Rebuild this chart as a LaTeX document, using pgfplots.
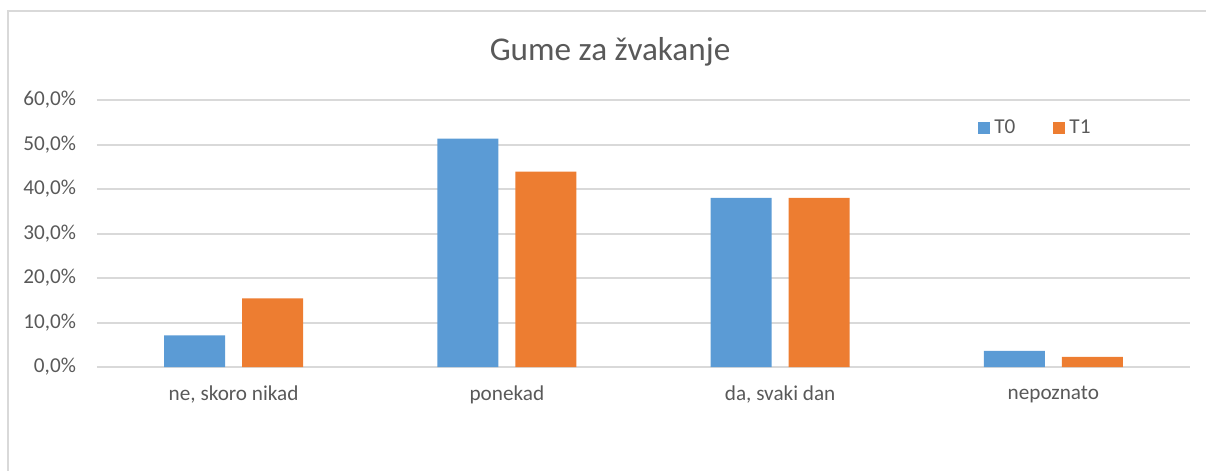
\documentclass[border=0pt]{standalone}
\usepackage{pgfplots}
\pgfplotsset{compat=1.18}
\usepackage{fontspec}
\setmainfont{Carlito}
\definecolor{txt}{HTML}{595959}
\definecolor{gridc}{HTML}{D9D9D9}
\definecolor{cT0}{HTML}{5B9BD5}
\definecolor{cT1}{HTML}{ED7D31}
\begin{document}
\begin{tikzpicture}
\path[use as bounding box] (0pt,0pt) rectangle (603pt,-235.5pt);
\draw[gridc, line width=1pt] (4pt,-240pt) -- (4pt,-5.5pt) -- (610pt,-5.5pt);
\node[text=txt, font=\fontsize{16.6}{20}\selectfont] at (305pt,-26pt) {Gume za žvakanje};
\begin{axis}[
  at={(48.5pt,-183.5pt)}, anchor=south west,
  scale only axis, width=546.5pt, height=133.5pt,
  ybar, bar width=30.5pt, ybar=8.5pt,
  xmin=-0.5, xmax=3.5, ymin=0, ymax=60,
  xtick=data,
  xticklabels={{ne, skoro nikad},{ponekad},{da, svaki dan},{nepoznato}},
  ytick={0,10,20,30,40,50,60},
  yticklabels={{0,0\%},{10,0\%},{20,0\%},{30,0\%},{40,0\%},{50,0\%},{60,0\%}},
  axis line style={draw=none},
  major tick length=0pt,
  ymajorgrids, grid style={gridc, line width=1pt},
  ticklabel style={text=txt, font=\fontsize{10.6}{12}\selectfont},
  yticklabel style={xshift=-7pt},
  xticklabel style={yshift=-6pt},
  legend columns=2,
  legend style={at={(0.806,0.895)}, anchor=west, draw=none, fill=none,
    inner sep=0pt, text=txt, font=\fontsize{10.6}{12}\selectfont,
    /tikz/every even column/.append style={column sep=17pt}},
]
\addplot[fill=cT0, draw=none, legend image code/.code={\fill[cT0] (0pt,-3pt) rectangle (6pt,3pt);}]
  coordinates {(0,7.1) (1,51.3) (2,38.0) (3,3.6)};
\addlegendentry{T0}
\addplot[fill=cT1, draw=none, legend image code/.code={\fill[cT1] (0pt,-3pt) rectangle (6pt,3pt);}]
  coordinates {(0,15.4) (1,43.9) (2,38.0) (3,2.3)};
\addlegendentry{T1}
\end{axis}
\end{tikzpicture}
\end{document}
